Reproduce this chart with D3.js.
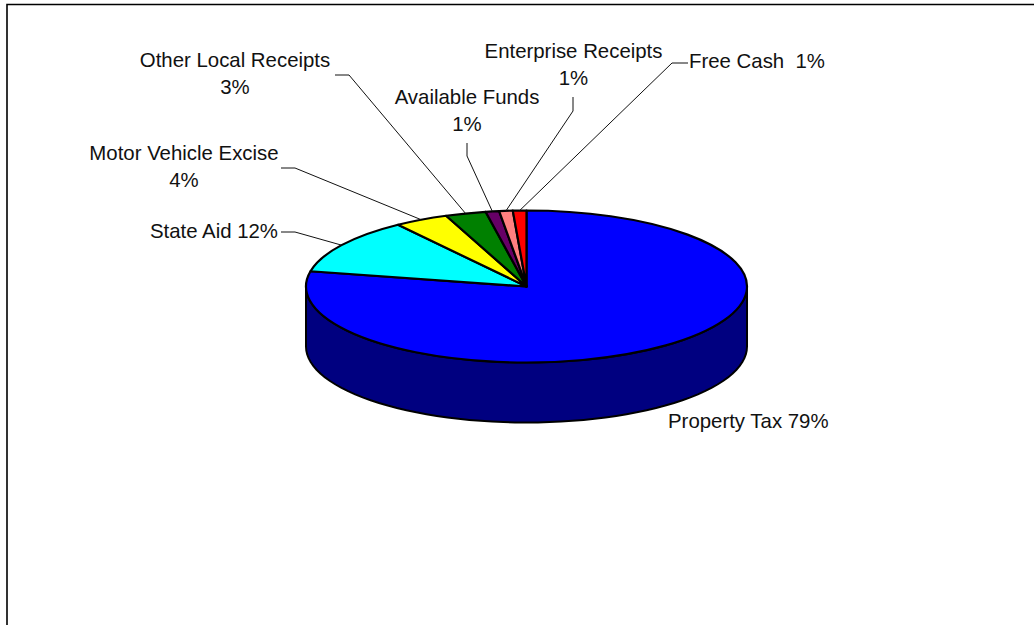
<!DOCTYPE html>
<html>
<head>
<meta charset="utf-8">
<title>Revenue sources</title>
<script src="https://cdnjs.cloudflare.com/ajax/libs/d3/7.8.5/d3.min.js"></script>
<style>
  html, body { margin: 0; padding: 0; background: #fff; overflow: hidden; }
  svg { display: block; }
  text { font-family: "Liberation Sans", Arial, sans-serif; font-size: 20.4px; fill: #111; white-space: pre; }
</style>
</head>
<body>
<svg id="chart" width="1034" height="625"></svg>
<script>
// Revenue shares, clockwise from twelve o'clock
const categories = ["Property Tax", "State Aid", "Motor Vehicle Excise", "Other Local Receipts",
                    "Available Funds", "Enterprise Receipts", "Free Cash"];
const shares = [79, 12, 4, 3, 1, 1, 1];
const sliceColors = ["#0000ff", "#00ffff", "#ffff00", "#008000", "#660066", "#ff8080", "#ff0000"];
const sideColor = "#000080";

// Text blocks: x/anchor, baselines, and the elbow each leader passes through
const labelLayout = [
  { lines: ["Property Tax 79%"], x: 668, y: [428], anchor: "start", leader: null },
  { lines: ["State Aid 12%"], x: 278, y: [238], anchor: "end", leader: [[281, 232], [295, 232]] },
  { lines: ["Motor Vehicle Excise", "4%"], x: 184, y: [160, 187], anchor: "middle", leader: [[281, 168], [295, 168]] },
  { lines: ["Other Local Receipts", "3%"], x: 235, y: [67, 94], anchor: "middle", leader: [[335, 75], [349, 75]] },
  { lines: ["Available Funds", "1%"], x: 467, y: [104, 131], anchor: "middle", leader: [[467, 143], [467, 156]] },
  { lines: ["Enterprise Receipts", "1%"], x: 573.5, y: [58, 85], anchor: "middle", leader: [[573, 97], [573, 111]] },
  { lines: ["Free Cash  1%"], x: 689, y: [68], anchor: "start", leader: [[688, 63], [672, 63]] }
];

const cx = 526.5, cy = 286.5, rx = 220.5, ry = 76, depth = 60;
const svg = d3.select("#chart");

// Chart frame runs past the right and bottom edges of the page
svg.append("path")
  .attr("d", "M7,625V4.5H1034")
  .attr("fill", "none").attr("stroke", "#000").attr("stroke-width", 1.6);

const pie = d3.pie().value(d => d).sort(null);
const arcs = pie(shares);
const arc = d3.arc().innerRadius(0).outerRadius(rx);

// Position on the disc rim for a pie angle (0 = up, clockwise)
const rim = (a, dy = 0) => [cx + rx * Math.sin(a), cy - ry * Math.cos(a) + dy];

// Side wall: the front half of the rim, top edge then bottom edge
const frontAngles = d3.range(90, 270.01, 3).map(d => d * Math.PI / 180);
const wall = frontAngles.map(a => rim(a))
  .concat(frontAngles.slice().reverse().map(a => rim(a, depth)));
svg.append("path")
  .attr("d", d3.line()(wall) + "Z")
  .attr("fill", sideColor).attr("stroke", "#000").attr("stroke-width", 2).attr("stroke-linejoin", "round");

// Top face: circular arcs squashed into the ellipse
const topFace = svg.append("g").attr("transform", `translate(${cx},${cy}) scale(1,${ry / rx})`);
topFace.selectAll("path").data(arcs).join("path")
  .attr("d", arc)
  .attr("fill", (d, i) => sliceColors[i])
  .attr("stroke", "#000").attr("stroke-width", 2.2)
  .attr("stroke-linejoin", "round")
  .attr("vector-effect", "non-scaling-stroke");

// Leader lines end on the rim at each slice's mid angle
labelLayout.forEach((l, i) => {
  if (!l.leader) return;
  const mid = (arcs[i].startAngle + arcs[i].endAngle) / 2;
  svg.append("path")
    .attr("d", d3.line()([...l.leader, rim(mid)]))
    .attr("fill", "none").attr("stroke", "#111").attr("stroke-width", 1);
});

// Category labels
labelLayout.forEach(l => {
  const t = svg.append("text").attr("text-anchor", l.anchor);
  l.lines.forEach((s, k) => t.append("tspan").attr("x", l.x).attr("y", l.y[k]).text(s));
});
</script>
</body>
</html>
